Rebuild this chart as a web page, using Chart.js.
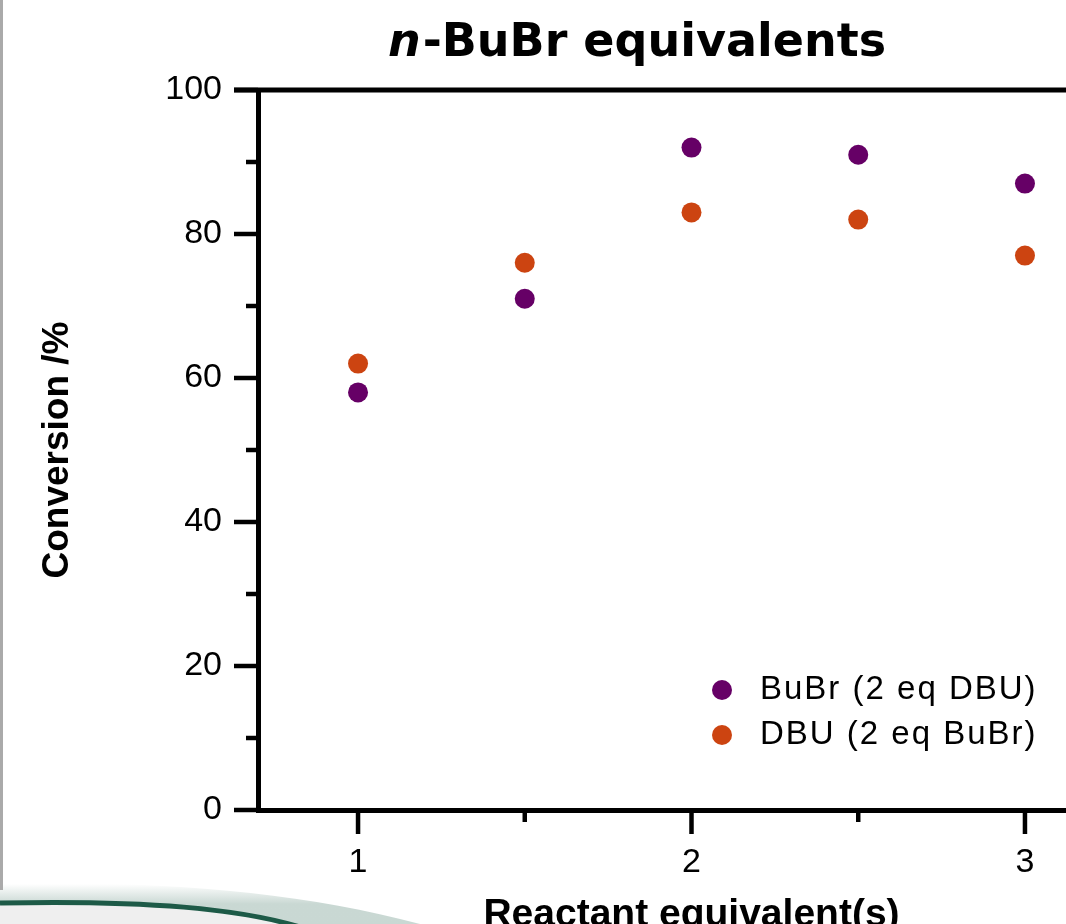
<!DOCTYPE html>
<html><head><meta charset="utf-8">
<script src="https://cdn.jsdelivr.net/npm/chart.js@4/dist/chart.umd.min.js"></script>
<style>html,body{margin:0;padding:0;overflow:hidden;background:#fff;width:1066px;height:924px}canvas{display:block}</style>
</head><body><canvas id="c" width="1140" height="924"></canvas>
<script>
const equivalents = [1, 1.5, 2, 2.5, 3];
const bubrConversion = [58, 71, 92, 91, 87];
const dbuConversion = [62, 76, 83, 82, 77];
const seriesLabels = ['BuBr (2 eq DBU)', 'DBU (2 eq BuBr)'];
const seriesColors = ['#660066', '#cc4411'];
const xTickValues = [1, 1.5, 2, 2.5, 3];
const xTickLabels = ['1', '', '2', '', '3'];
const yTickValues = [0, 10, 20, 30, 40, 50, 60, 70, 80, 90, 100];
const yTickLabels = ['0', '', '20', '', '40', '', '60', '', '80', '', '100'];
const titleItalic = 'n';
const titleRest = '-BuBr equivalents';
const xTitle = 'Reactant equivalent(s)';
const yTitle = 'Conversion /%';

const toPoints = ys => equivalents.map((x, i) => ({x, y: ys[i]}));

const decor = {
  id: 'decor',
  beforeDraw(chart) {
    const ctx = chart.ctx;
    ctx.save();
    ctx.fillStyle = '#fff';
    ctx.fillRect(0, 0, chart.width, chart.height);
    // soft shade above the curve, fading to the right
    const g = ctx.createLinearGradient(0, 884, 0, 904);
    g.addColorStop(0, 'rgba(40,100,80,0)');
    g.addColorStop(1, 'rgba(40,100,80,0.25)');
    ctx.beginPath();
    ctx.moveTo(0, 884);
    ctx.bezierCurveTo(160, 880, 300, 892, 420, 924);
    ctx.lineTo(0, 924);
    ctx.closePath();
    ctx.fillStyle = g;
    ctx.fill();
    // light grey below curve
    ctx.beginPath();
    ctx.moveTo(0, 903);
    ctx.bezierCurveTo(150, 900, 240, 909, 300, 927);
    ctx.lineTo(0, 927);
    ctx.closePath();
    ctx.fillStyle = '#efefef';
    ctx.fill();
    ctx.beginPath();
    ctx.moveTo(0, 903);
    ctx.bezierCurveTo(150, 900, 240, 909, 300, 927);
    ctx.strokeStyle = '#1d5a47';
    ctx.lineWidth = 5;
    ctx.stroke();
    // grey page edge
    ctx.fillStyle = '#aaaaaa';
    ctx.fillRect(0, 0, 3, 890);
    ctx.restore();
  }
};

const extras = {
  id: 'extras',
  afterDraw(chart) {
    const ctx = chart.ctx;
    const xs = chart.scales.x, ys = chart.scales.y;
    const a = chart.chartArea;
    ctx.save();
    ctx.strokeStyle = '#000';
    ctx.lineWidth = 4.5;
    ctx.lineCap = 'butt';
    xTickValues.forEach((v, i) => {
      const px = xs.getPixelForValue(v);
      const len = xTickLabels[i] ? 24 : 12;
      ctx.beginPath(); ctx.moveTo(px, a.bottom); ctx.lineTo(px, a.bottom + len); ctx.stroke();
    });
    yTickValues.forEach((v, i) => {
      const py = ys.getPixelForValue(v);
      const len = yTickLabels[i] ? 24 : 12;
      ctx.beginPath(); ctx.moveTo(a.left, py); ctx.lineTo(a.left - len, py); ctx.stroke();
    });
    // top frame line
    ctx.lineWidth = 5;
    ctx.beginPath(); ctx.moveTo(a.left - 24, a.top); ctx.lineTo(a.right, a.top); ctx.stroke();
    // title
    ctx.fillStyle = '#000';
    ctx.textBaseline = 'alphabetic';
    const f1 = 'italic bold 46px "DejaVu Sans"';
    const f2 = 'bold 46px "DejaVu Sans"';
    ctx.font = f1; const w1 = ctx.measureText(titleItalic).width;
    ctx.font = f2; const w2 = ctx.measureText(titleRest).width;
    const cx = 636;
    let x0 = cx - (w1 + w2) / 2;
    ctx.font = f1; ctx.textAlign = 'left'; ctx.fillText(titleItalic, x0, 56);
    ctx.font = f2; ctx.fillText(titleRest, x0 + w1 + 2, 56);
    // legend
    ctx.font = '33px "Liberation Sans", Arial';
    ctx.letterSpacing = '2px';
    ctx.textBaseline = 'middle';
    chart.data.datasets.forEach((ds, i) => {
      const y = 690 + i * 45;
      ctx.fillStyle = ds.backgroundColor;
      ctx.beginPath(); ctx.arc(722, y, 10, 0, Math.PI * 2); ctx.fill();
      ctx.fillStyle = '#000';
      ctx.fillText(ds.label, 760, y);
    });
    ctx.restore();
  }
};

new Chart(document.getElementById('c'), {
  type: 'scatter',
  data: {
    datasets: [
      {label: seriesLabels[0], data: toPoints(bubrConversion), backgroundColor: seriesColors[0], borderWidth: 0, pointRadius: 10, pointHoverRadius: 10},
      {label: seriesLabels[1], data: toPoints(dbuConversion), backgroundColor: seriesColors[1], borderWidth: 0, pointRadius: 10, pointHoverRadius: 10}
    ]
  },
  options: {
    responsive: false,
    animation: false,
    events: [],
    layout: {padding: {top: 90, left: 0, right: 15, bottom: 0}},
    plugins: {legend: {display: false}, title: {display: false}, tooltip: {enabled: false}},
    scales: {
      x: {
        type: 'linear', min: 0.7, max: 3.3,
        afterBuildTicks: s => { s.ticks = xTickValues.map(v => ({value: v})); },
        afterFit: s => { s.height = 114; },
        ticks: {
          autoSkip: false, maxRotation: 0, padding: 8, color: '#000',
          font: {family: '"Liberation Sans", Arial', size: 34},
          callback: (v) => xTickLabels[xTickValues.indexOf(v)] ?? ''
        },
        grid: {drawOnChartArea: false, drawTicks: true, tickLength: 24, tickColor: 'rgba(0,0,0,0)'},
        border: {display: true, color: '#000', width: 5},
        title: {display: true, text: xTitle, color: '#000', font: {family: '"Liberation Sans", Arial', size: 39, weight: 'bold', lineHeight: 0.6}, padding: {top: 0, bottom: -3}}
      },
      y: {
        type: 'linear', min: 0, max: 100,
        afterBuildTicks: s => { s.ticks = yTickValues.map(v => ({value: v})); },
        afterFit: s => { s.width = 258; },
        ticks: {
          autoSkip: false, padding: 12, color: '#000',
          font: {family: '"Liberation Sans", Arial', size: 34},
          callback: (v) => yTickLabels[yTickValues.indexOf(v)] ?? ''
        },
        grid: {drawOnChartArea: false, drawTicks: true, tickLength: 24, tickColor: 'rgba(0,0,0,0)'},
        border: {display: true, color: '#000', width: 5},
        title: {display: true, text: yTitle, color: '#000', font: {family: '"Liberation Sans", Arial', size: 37, weight: 'bold', lineHeight: 1}, padding: {top: 39, bottom: 0}}
      }
    }
  },
  plugins: [decor, extras]
});
</script>
</body></html>
